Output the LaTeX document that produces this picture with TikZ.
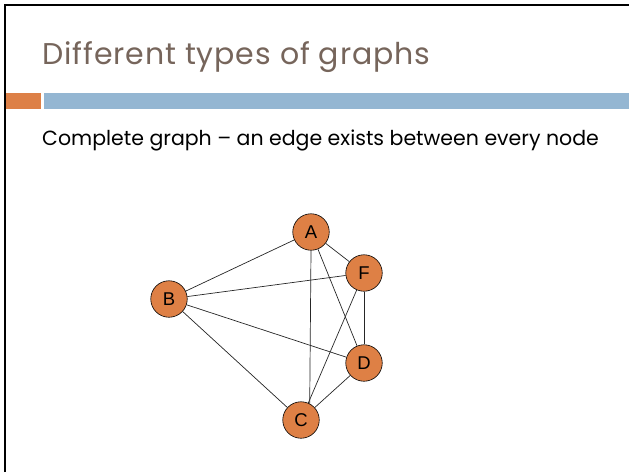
\documentclass[tikz,border=0pt]{standalone}
\usepackage{fontspec}
\setmainfont{Poppins}
\newfontfamily\titlefont[LetterSpace=3]{Poppins}
\newfontfamily\vertexfont{Liberation Sans}
\usetikzlibrary{positioning}
\definecolor{titlebrown}{HTML}{76655B}
\definecolor{barorange}{HTML}{DD8047}
\definecolor{barblue}{HTML}{94B6D2}
\definecolor{vertexorange}{HTML}{DE8045}
\tikzset{
  vertex/.style = {circle, draw=black, fill=vertexorange, line width=0.6pt,
                   minimum size=36.5pt, inner sep=0pt,
                   font=\vertexfont\fontsize{18.5}{18.5}\selectfont},
  link/.style = {draw=black!85, line width=0.7pt},
  slidetext/.style = {anchor=base west, inner sep=0pt}
}
\begin{document}
\begin{tikzpicture}[x=1pt,y=-1pt]
  \useasboundingbox (0,0) rectangle (629,472);

  % slide frame and header bars
  \draw[line width=2.2pt] (5,472) -- (5,5) -- (629,5);
  \fill[barorange] (6,93) rectangle (41,109);
  \fill[barblue] (44,93) rectangle (629,109);

  \node[slidetext, text=titlebrown, font=\titlefont\fontsize{30}{30}\selectfont] (title)
    at (42,64) {Different types of graphs};
  \node[slidetext, font=\fontsize{20.5}{20.5}\selectfont] (subtitle)
    at (42,145) {Complete graph -- an edge exists between every node};

  % complete graph on five vertices
  \node[vertex] (A) at (311,232) {A};
  \node[vertex] (F) at (364,273) {F};
  \node[vertex] (B) at (169,299) {B};
  \node[vertex] (D) at (364,363) {D};
  \node[vertex] (C) at (301,420) {C};

  \foreach \u/\v in {A/B, A/F, A/D, B/F, B/D, B/C, F/D, F/C, D/C}
    \draw[link] (\u) -- (\v);
  \draw[link] (A.south) -- (C.62);

\end{tikzpicture}
\end{document}
